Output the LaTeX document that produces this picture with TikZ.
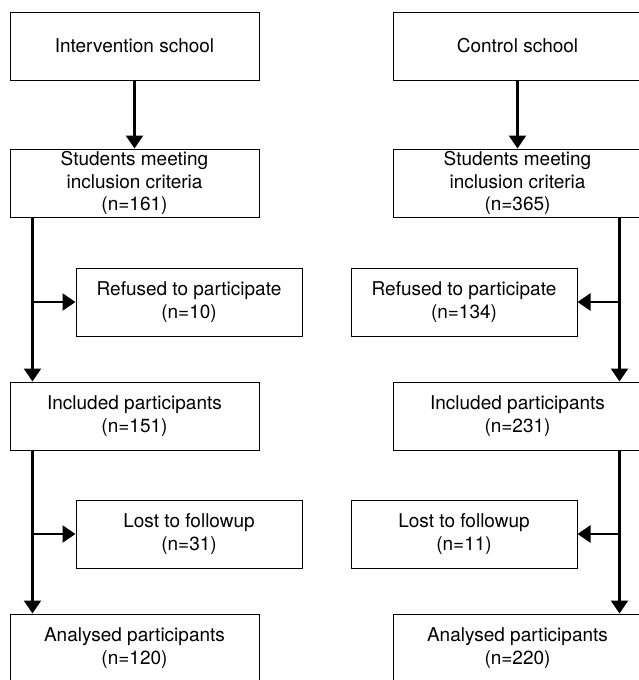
\documentclass[tikz,border=0pt]{standalone}
\usepackage{fontspec}
\setmainfont{TeX Gyre Heros}
\usetikzlibrary{arrows.meta}
\tikzset{
  box/.style={draw, line width=1pt, minimum width=249pt, minimum height=68pt,
    inner sep=0pt, align=center, font=\fontsize{19}{22.5}\selectfont},
  sidebox/.style={box, minimum width=226pt},
  arr/.style={line width=2.4pt, -{Triangle[width=17pt,length=13pt]}}
}
\begin{document}
\begin{tikzpicture}[x=1pt,y=-1pt]
\clip (0,0) rectangle (639,680);
% left column
\node[box] (isch) at (134.5,46) {Intervention school};
\node[box] (lstud) at (134.5,183) {Students meeting\\inclusion criteria\\(n=161)};
\node[sidebox] (lref) at (189,302) {Refused to participate\\(n=10)};
\node[box] (linc) at (134.5,416) {Included participants\\(n=151)};
\node[sidebox] (llost) at (189,534) {Lost to followup\\(n=31)};
\node[box] (lana) at (134.5,648) {Analysed participants\\(n=120)};
% right column
\node[box] (csch) at (517.5,46) {Control school};
\node[box] (rstud) at (517.5,183) {Students meeting\\inclusion criteria\\(n=365)};
\node[sidebox] (rref) at (464,302) {Refused to participate\\(n=134)};
\node[box] (rinc) at (517.5,416) {Included participants\\(n=231)};
\node[sidebox] (rlost) at (464,534) {Lost to followup\\(n=11)};
\node[box] (rana) at (517.5,648) {Analysed participants\\(n=220)};
% arrows
\draw[arr] (isch) -- (lstud);
\draw[arr] (csch) -- (rstud);
\coordinate (ltr) at ([xshift=23pt]lstud.south west);
\coordinate (ltr2) at ([xshift=23pt]linc.south west);
\draw[arr] (ltr) -- (ltr |- linc.north);
\draw[arr] (ltr |- lref) -- (lref.west);
\draw[arr] (ltr2) -- (ltr2 |- lana.north);
\draw[arr] (ltr2 |- llost) -- (llost.west);
\coordinate (rtr) at ([xshift=-23pt]rstud.south east);
\coordinate (rtr2) at ([xshift=-23pt]rinc.south east);
\draw[arr] (rtr) -- (rtr |- rinc.north);
\draw[arr] (rtr |- rref) -- (rref.east);
\draw[arr] (rtr2) -- (rtr2 |- rana.north);
\draw[arr] (rtr2 |- rlost) -- (rlost.east);
\end{tikzpicture}
\end{document}
